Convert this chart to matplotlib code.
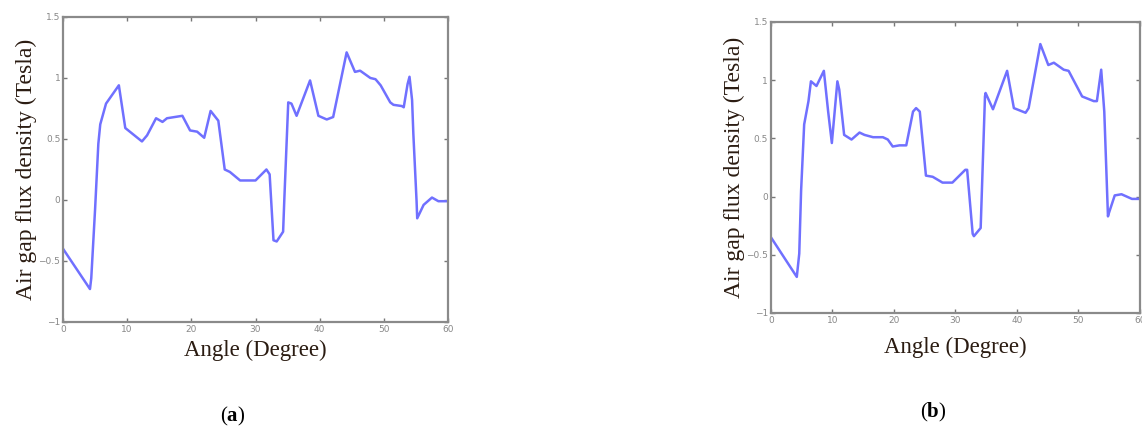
import matplotlib
matplotlib.use("Agg")
import matplotlib.pyplot as plt

plt.rcParams['mathtext.fontset'] = 'custom'
plt.rcParams['mathtext.bf'] = 'Liberation Serif:bold'
plt.rcParams['mathtext.rm'] = 'Liberation Serif'

# flux density along the air gap, case (a)
angle_a = [0, 4.2, 4.4, 5.0, 5.5, 5.8, 6.7, 8.7, 9.7, 12.3, 13.1, 14.5, 15.5, 16.2,
           18.6, 19.8, 20.9, 22.0, 23.0, 24.2, 25.2, 26.0, 27.6, 30.0, 31.7, 32.2,
           32.8, 33.3, 34.3, 34.5, 35.1, 35.6, 36.4, 38.5, 39.8, 41.1, 42.1, 44.2,
           45.5, 46.3, 47.9, 48.7, 49.5, 51.0, 51.5, 52.8, 53.1, 53.7, 54.0, 54.4,
           54.6, 55.1, 55.2, 56.2, 57.5, 58.5, 60]
flux_a = [-0.40, -0.73, -0.64, -0.07, 0.46, 0.62, 0.79, 0.94, 0.59, 0.48, 0.53, 0.67,
          0.64, 0.67, 0.69, 0.57, 0.56, 0.51, 0.73, 0.65, 0.25, 0.23, 0.16, 0.16,
          0.25, 0.21, -0.33, -0.34, -0.26, 0.02, 0.80, 0.79, 0.69, 0.98, 0.69, 0.66,
          0.68, 1.21, 1.05, 1.06, 1.00, 0.99, 0.94, 0.80, 0.78, 0.77, 0.76, 0.95,
          1.01, 0.82, 0.54, -0.01, -0.15, -0.04, 0.02, -0.01, -0.01]

# flux density along the air gap, case (b)
angle_b = [0, 4.2, 4.6, 4.9, 5.4, 6.1, 6.5, 7.4, 8.6, 9.3, 9.9, 10.8, 11.1, 11.9,
           13.1, 14.4, 15.2, 16.6, 18.2, 19.0, 19.8, 20.9, 22.0, 23.1, 23.6, 24.2,
           25.2, 26.3, 27.9, 29.5, 31.6, 31.9, 32.8, 33.0, 34.1, 34.8, 34.9, 36.1,
           38.4, 39.5, 41.4, 41.9, 43.8, 45.1, 46.0, 47.6, 48.4, 50.6, 52.5, 53.0,
           53.7, 54.2, 54.8, 54.9, 55.9, 57.0, 58.7, 60]
flux_b = [-0.35, -0.69, -0.49, 0.05, 0.62, 0.82, 0.99, 0.95, 1.08, 0.73, 0.46, 0.99,
          0.92, 0.53, 0.49, 0.55, 0.53, 0.51, 0.51, 0.49, 0.43, 0.44, 0.44, 0.73,
          0.76, 0.73, 0.18, 0.17, 0.12, 0.12, 0.23, 0.23, -0.32, -0.34, -0.27, 0.86,
          0.89, 0.75, 1.08, 0.76, 0.72, 0.76, 1.31, 1.13, 1.15, 1.09, 1.08, 0.86,
          0.82, 0.82, 1.09, 0.73, -0.17, -0.15, 0.01, 0.02, -0.02, -0.02]

xticks = [0, 10, 20, 30, 40, 50, 60]
yticks = [-1, -0.5, 0, 0.5, 1, 1.5]
ytick_labels = ['\u22121', '\u22120.5', '0', '0.5', '1', '1.5']

fig = plt.figure(figsize=(11.42, 4.28), dpi=100)
ax_a = fig.add_axes([0.0552, 0.2477, 0.3371, 0.7126])
ax_b = fig.add_axes([0.6751, 0.2687, 0.3231, 0.6800])

label_color = '#2b1c12'
for ax, x, y, xpad in [(ax_a, angle_a, flux_a, 4), (ax_b, angle_b, flux_b, 9)]:
    ax.plot(x, y, color='#7070ff', lw=1.8)
    ax.set_xlim(0, 60)
    ax.set_ylim(-1, 1.5)
    ax.set_xticks(xticks)
    ax.set_yticks(yticks)
    ax.set_yticklabels(ytick_labels)
    ax.tick_params(direction='in', length=3, width=1, color='#777777',
                   labelsize=6.5, labelcolor='#888888', top=True, right=True, pad=2)
    for s in ax.spines.values():
        s.set_color('#8a8a8a')
        s.set_linewidth(1.6)
    ax.set_xlabel('Angle (Degree)', family='Liberation Serif', fontsize=16.5,
                  color=label_color, labelpad=xpad)
    ax.set_ylabel('Air gap flux density (Tesla)', family='Liberation Serif',
                  fontsize=17, color=label_color, labelpad=1)

fig.text(0.204, 0.026, r'($\mathbf{a}$)', family='Liberation Serif', fontsize=15,
         ha='center', va='center')
fig.text(0.817, 0.037, r'($\mathbf{b}$)', family='Liberation Serif', fontsize=15,
         ha='center', va='center')

fig.savefig('out.png', dpi=100)
